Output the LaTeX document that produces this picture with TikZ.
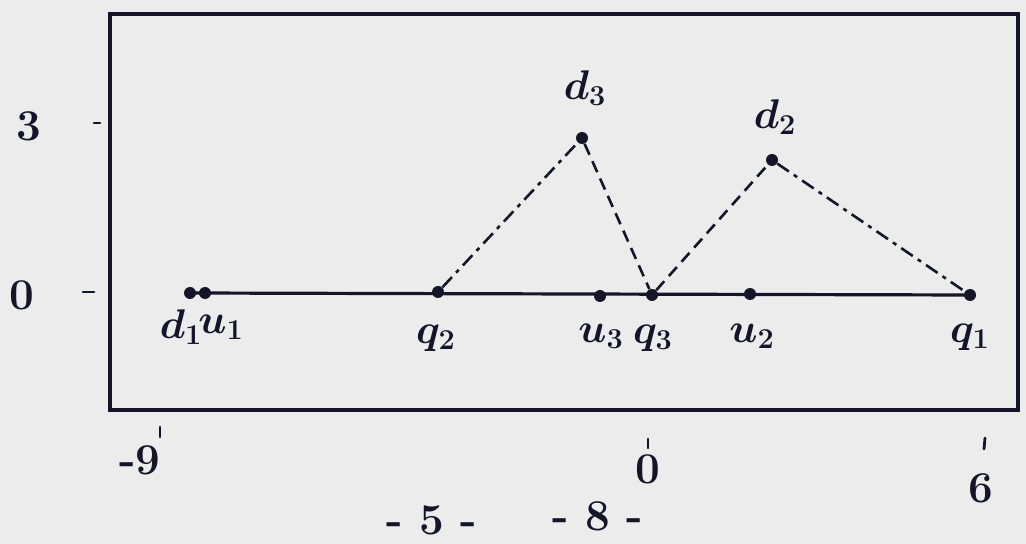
\documentclass[tikz,border=0pt]{standalone}
\usepackage{tikz}
\usetikzlibrary{positioning}
\definecolor{paperGray}{HTML}{ECECEC}
\definecolor{penInk}{HTML}{15152A}

\begin{document}
\begin{tikzpicture}[
  x=0.5pt, y=-0.5pt,
  dot/.style={circle, fill=penInk, inner sep=0pt, minimum size=6pt},
  lbl/.style={text=penInk, font=\fontsize{22}{24}\selectfont\bfseries\boldmath, inner sep=0pt},
  frame/.style={line width=1.8pt, draw=penInk},
  axis/.style={line width=1.6pt, draw=penInk},
  dashA/.style={line width=1.3pt, draw=penInk, dash pattern=on 7pt off 3pt on 2pt off 3pt},
  dashB/.style={line width=1.3pt, draw=penInk, dash pattern=on 6pt off 3.5pt},
  tick/.style={line width=1.4pt, draw=penInk, line cap=round}
]
  \fill[paperGray] (0,0) rectangle (1026,544);
  \useasboundingbox (0,0) rectangle (1026,544);
  \draw[frame] (110,14) rectangle (1018,410);
  % points
  \node[dot] (d1) at (190,293) {};
  \node[dot] (u1) at (205,293) {};
  \node[dot] (q2) at (438,292) {};
  \node[dot] (u3) at (600,296) {};
  \node[dot] (q3) at (652,295) {};
  \node[dot] (u2) at (750,294) {};
  \node[dot] (q1) at (970,295) {};
  \node[dot] (d3) at (582,138) {};
  \node[dot] (d2) at (772,160) {};
  % labels
  \node[lbl] (d1lab) at (181,327) {$d_1$};
  \node[lbl] (u1lab) at (221,327) {$u_1$};
  \node[lbl] (q2lab) at (436,338) {$q_2$};
  \node[lbl] (u3lab) at (601,336) {$u_3$};
  \node[lbl] (q3lab) at (653,338) {$q_3$};
  \node[lbl] (u2lab) at (752,336) {$u_2$};
  \node[lbl] (q1lab) at (970,337) {$q_1$};
  \node[lbl] (d3lab) at (585,88) {$d_3$};
  \node[lbl] (d2lab) at (775,117) {$d_2$};
  % axis values
  \node[lbl] (ythree) at (29,126) {3};
  \node[lbl] (yzero) at (22,295) {0};
  \node[lbl] (xneg) at (140,460) {-9};
  \node[lbl] (xzero) at (648,469) {0};
  \node[lbl] (xsix) at (981,488) {6};
  \draw[tick] (94,123) -- (100,123);
  \draw[tick] (83,292) -- (94,292);
  \draw[tick] (160,427) -- (160,437);
  \draw[tick] (648,439) -- (648,448);
  \draw[tick] (985,438) -- (984,449);
  % page marks
  \node[lbl] (pfive) at (432,520) {- 5 -};
  \node[lbl] (peight) at (598,516) {- 8 -};
  % lines
  \draw[axis] (d1.center) -- (q1.center);
  \draw[dashA] (q2) -- (d3);
  \draw[dashB] (d3) -- (q3);
  \draw[dashB] (q3) -- (d2);
  \draw[dashA] (d2) -- (q1);
\end{tikzpicture}
\end{document}
